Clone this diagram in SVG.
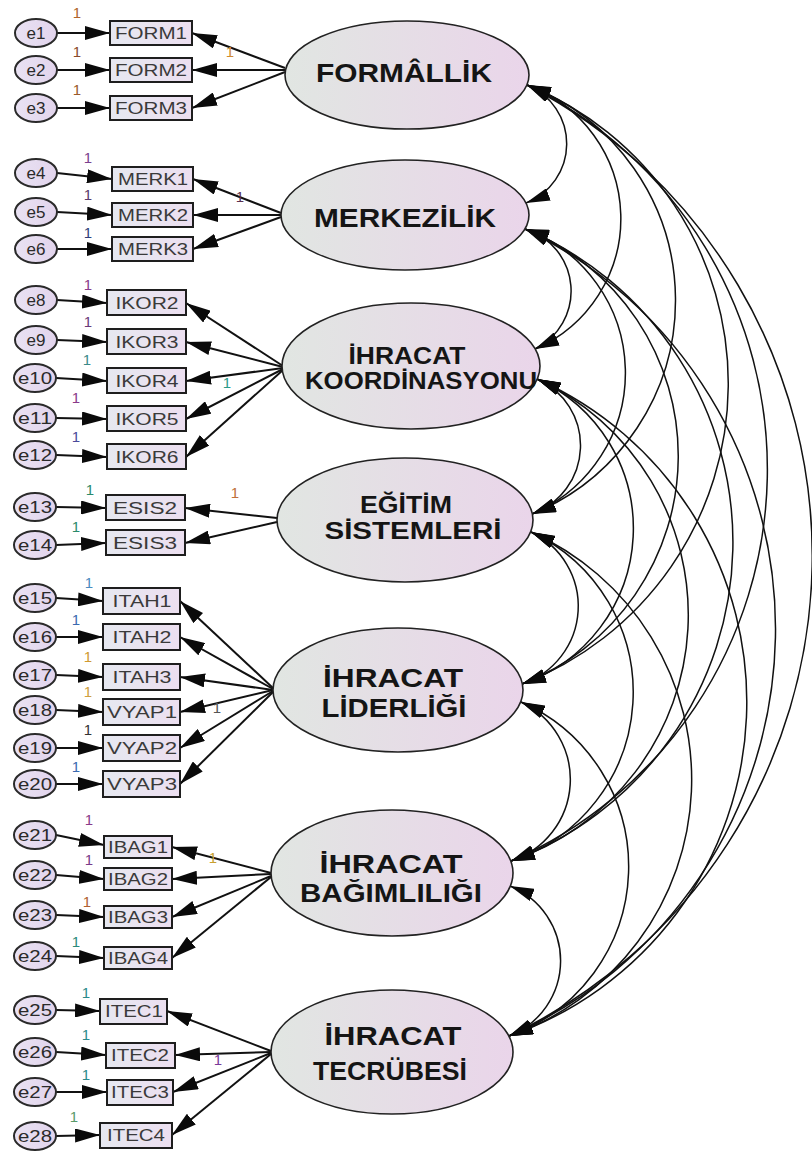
<svg xmlns="http://www.w3.org/2000/svg" width="812" height="1160" viewBox="0 0 812 1160">
  <style>
    .lat { stroke: #222; stroke-width: 1.6; fill: url(#latFill); }
    .err { stroke: #2a2a2a; stroke-width: 2; fill: url(#errFill); }
    .obs { stroke: #1e1e1e; stroke-width: 2; fill: url(#obsFill); }
    .latText { font-family: "Liberation Sans", Arial, sans-serif; font-weight: bold; fill: #151515; text-anchor: middle; }
    .obsText { font-family: "Liberation Sans", Arial, sans-serif; font-size: 16px; fill: #3a3a3a; text-anchor: middle; }
    .errText { font-family: "Liberation Sans", Arial, sans-serif; font-size: 17px; fill: #2a2a2a; text-anchor: middle; }
    .w { font-family: "Liberation Sans", Arial, sans-serif; font-size: 15px; text-anchor: middle; }
    .path { stroke: #111; stroke-width: 2; fill: none; marker-end: url(#head); }
    .cov { stroke: #111; stroke-width: 1.5; fill: none; marker-start: url(#covHead); marker-end: url(#covHead); }
  </style>
  <defs>
    <linearGradient id="latFill" x1="0" y1="0" x2="1" y2="0">
      <stop offset="0" stop-color="#e1e6e2"/>
      <stop offset="1" stop-color="#ead5ea"/>
    </linearGradient>
    <linearGradient id="errFill" x1="0" y1="0" x2="1" y2="0">
      <stop offset="0" stop-color="#e9e2f3"/>
      <stop offset="1" stop-color="#e2d4ec"/>
    </linearGradient>
    <linearGradient id="obsFill" x1="0" y1="0" x2="1" y2="0">
      <stop offset="0" stop-color="#e6e8f0"/>
      <stop offset="1" stop-color="#ecdff0"/>
    </linearGradient>
    <marker id="head" viewBox="0 0 25 14" refX="25" refY="7" markerWidth="25" markerHeight="14" markerUnits="userSpaceOnUse" orient="auto">
      <path d="M0,0 L25,7 L0,14 z" fill="#0a0a0a"/>
    </marker>
    <marker id="covHead" viewBox="0 0 24 13" refX="24" refY="6.5" markerWidth="24" markerHeight="13" markerUnits="userSpaceOnUse" orient="auto-start-reverse">
      <path d="M0,0 L24,6.5 L0,13 z" fill="#0a0a0a"/>
    </marker>
  </defs>
  <rect width="812" height="1160" fill="#ffffff"/>

  <!-- connectors: residual paths, loadings and factor covariances -->
  <g id="connectors">
    <!-- residual → indicator -->
    <line class="path" x1="57" y1="33" x2="110" y2="33"/>
    <line class="path" x1="57" y1="70" x2="110" y2="70"/>
    <line class="path" x1="57" y1="108" x2="110" y2="108"/>
    <line class="path" x1="57" y1="173" x2="112" y2="179"/>
    <line class="path" x1="57" y1="212" x2="112" y2="215"/>
    <line class="path" x1="57" y1="249" x2="112" y2="249"/>
    <line class="path" x1="57" y1="300" x2="107" y2="303"/>
    <line class="path" x1="57" y1="340" x2="107" y2="342"/>
    <line class="path" x1="56" y1="378" x2="107" y2="381"/>
    <line class="path" x1="56" y1="418" x2="107" y2="419"/>
    <line class="path" x1="56" y1="455" x2="107" y2="457"/>
    <line class="path" x1="56" y1="507" x2="106" y2="508"/>
    <line class="path" x1="56" y1="545" x2="106" y2="543"/>
    <line class="path" x1="56" y1="598" x2="103" y2="601"/>
    <line class="path" x1="56" y1="637" x2="103" y2="637"/>
    <line class="path" x1="56" y1="675" x2="103" y2="677"/>
    <line class="path" x1="56" y1="710" x2="103" y2="712"/>
    <line class="path" x1="56" y1="748" x2="103" y2="748"/>
    <line class="path" x1="56" y1="784" x2="103" y2="784"/>
    <line class="path" x1="56" y1="835" x2="104" y2="845"/>
    <line class="path" x1="56" y1="875" x2="104" y2="879"/>
    <line class="path" x1="56" y1="915" x2="104" y2="917"/>
    <line class="path" x1="56" y1="956" x2="104" y2="958"/>
    <line class="path" x1="56" y1="1010" x2="100" y2="1011"/>
    <line class="path" x1="56" y1="1052" x2="106" y2="1055"/>
    <line class="path" x1="56" y1="1092" x2="107" y2="1092"/>
    <line class="path" x1="56" y1="1136" x2="100" y2="1135"/>

    <!-- factor → indicator -->
    <line class="path" x1="285" y1="68" x2="192" y2="33"/>
    <line class="path" x1="285" y1="70" x2="192" y2="70"/>
    <line class="path" x1="285" y1="72" x2="192" y2="108"/>
    <line class="path" x1="281" y1="213" x2="193" y2="179"/>
    <line class="path" x1="281" y1="215" x2="193" y2="215"/>
    <line class="path" x1="281" y1="217" x2="193" y2="249"/>
    <line class="path" x1="283" y1="366" x2="186" y2="303"/>
    <line class="path" x1="283" y1="367" x2="186" y2="342"/>
    <line class="path" x1="283" y1="368" x2="186" y2="381"/>
    <line class="path" x1="283" y1="369" x2="186" y2="419"/>
    <line class="path" x1="283" y1="370" x2="186" y2="457"/>
    <line class="path" x1="277" y1="518" x2="185" y2="508"/>
    <line class="path" x1="277" y1="522" x2="185" y2="543"/>
    <line class="path" x1="273" y1="688" x2="180" y2="601"/>
    <line class="path" x1="273" y1="689" x2="180" y2="637"/>
    <line class="path" x1="273" y1="690" x2="180" y2="677"/>
    <line class="path" x1="273" y1="690" x2="180" y2="712"/>
    <line class="path" x1="273" y1="691" x2="180" y2="748"/>
    <line class="path" x1="273" y1="692" x2="180" y2="784"/>
    <line class="path" x1="271" y1="873" x2="172" y2="847"/>
    <line class="path" x1="271" y1="874" x2="172" y2="879"/>
    <line class="path" x1="271" y1="876" x2="172" y2="917"/>
    <line class="path" x1="271" y1="877" x2="172" y2="958"/>
    <line class="path" x1="271" y1="1051" x2="167" y2="1011"/>
    <line class="path" x1="271" y1="1052" x2="175" y2="1055"/>
    <line class="path" x1="271" y1="1053" x2="173" y2="1092"/>
    <line class="path" x1="271" y1="1054" x2="172" y2="1135"/>

    <!-- covariances between factors (circular arcs on the right-hand side) -->
    <path class="cov" d="M527,85 A63.4,63.4 0 0 1 526,203"/>
    <path class="cov" d="M527,85 A142,142 0 0 1 535,349"/>
    <path class="cov" d="M527,85 A230.6,230.6 0 0 1 532,514"/>
    <path class="cov" d="M527,85 A322,322 0 0 1 522,684"/>
    <path class="cov" d="M527,85 A427.4,427.4 0 0 1 511,861"/>
    <path class="cov" d="M527,85 A531.5,531.5 0 0 1 509,1036"/>
    <path class="cov" d="M525,229 A64.7,64.7 0 0 1 535,349"/>
    <path class="cov" d="M525,229 A153.3,153.3 0 0 1 532,514"/>
    <path class="cov" d="M525,229 A244.6,244.6 0 0 1 522,684"/>
    <path class="cov" d="M525,229 A339.9,339.9 0 0 1 511,861"/>
    <path class="cov" d="M525,229 A444.3,444.3 0 0 1 509,1036"/>
    <path class="cov" d="M537,379 A72.6,72.6 0 0 1 532,514"/>
    <path class="cov" d="M537,379 A164.2,164.2 0 0 1 522,684"/>
    <path class="cov" d="M537,379 A259.5,259.5 0 0 1 511,861"/>
    <path class="cov" d="M537,379 A353.5,353.5 0 0 1 509,1036"/>
    <path class="cov" d="M531,532 A81.9,81.9 0 0 1 522,684"/>
    <path class="cov" d="M531,532 A177.2,177.2 0 0 1 511,861"/>
    <path class="cov" d="M531,532 A271.2,271.2 0 0 1 509,1036"/>
    <path class="cov" d="M521,702 A85.6,85.6 0 0 1 511,861"/>
    <path class="cov" d="M521,702 A179.7,179.7 0 0 1 509,1036"/>
    <path class="cov" d="M510,886 A80.6,80.6 0 0 1 509,1036"/>

    <!-- fixed weights -->
    <g id="weights">
      <text class="w" x="77" y="18" fill="#b0642a">1</text>
      <text class="w" x="77" y="57" fill="#8a4a2a">1</text>
      <text class="w" x="77" y="95" fill="#9a5a2a">1</text>
      <text class="w" x="230" y="57" fill="#d08a30">1</text>
      <text class="w" x="88" y="163" fill="#7b3f8f">1</text>
      <text class="w" x="88" y="200" fill="#5a3a6a">1</text>
      <text class="w" x="88" y="238" fill="#2f3f7a">1</text>
      <text class="w" x="240" y="202" fill="#5a3050">1</text>
      <text class="w" x="88" y="290" fill="#8a3a8a">1</text>
      <text class="w" x="88" y="327" fill="#6a3a7a">1</text>
      <text class="w" x="87" y="365" fill="#3a8a8a">1</text>
      <text class="w" x="76" y="403" fill="#8a3a8a">1</text>
      <text class="w" x="76" y="442" fill="#4a4a9a">1</text>
      <text class="w" x="227" y="388" fill="#2a9a8a">1</text>
      <text class="w" x="90" y="495" fill="#2a8a6a">1</text>
      <text class="w" x="76" y="532" fill="#2a8a6a">1</text>
      <text class="w" x="235" y="498" fill="#c0703a">1</text>
      <text class="w" x="89" y="588" fill="#4a8ac0">1</text>
      <text class="w" x="76" y="625" fill="#3a6ab0">1</text>
      <text class="w" x="88" y="662" fill="#d09a30">1</text>
      <text class="w" x="88" y="697" fill="#d0a040">1</text>
      <text class="w" x="88" y="735" fill="#333333">1</text>
      <text class="w" x="76" y="772" fill="#3a6ab0">1</text>
      <text class="w" x="217" y="713" fill="#555555">1</text>
      <text class="w" x="89" y="825" fill="#8a3a8a">1</text>
      <text class="w" x="89" y="865" fill="#7a3a8a">1</text>
      <text class="w" x="87" y="907" fill="#b06030">1</text>
      <text class="w" x="76" y="947" fill="#2a8a7a">1</text>
      <text class="w" x="213" y="863" fill="#c8a030">1</text>
      <text class="w" x="86" y="998" fill="#2a8a8a">1</text>
      <text class="w" x="86" y="1040" fill="#2a8a8a">1</text>
      <text class="w" x="86" y="1080" fill="#2a8a8a">1</text>
      <text class="w" x="74" y="1122" fill="#5a9a6a">1</text>
      <text class="w" x="218" y="1065" fill="#7a3a9a">1</text>
    </g>
  </g>

  <!-- latent factors -->
  <g id="F_FORMALLIK">
    <ellipse class="lat" cx="407" cy="75" rx="122" ry="54"/>
    <text class="latText" x="404" y="82" font-size="26" textLength="176" lengthAdjust="spacingAndGlyphs">FORMÂLLİK</text>
  </g>
  <g id="F_MERKEZILIK">
    <ellipse class="lat" cx="405" cy="215" rx="124" ry="55"/>
    <text class="latText" x="405" y="227" font-size="26" textLength="182" lengthAdjust="spacingAndGlyphs">MERKEZİLİK</text>
  </g>
  <g id="F_KOORDINASYON">
    <ellipse class="lat" cx="411" cy="366" rx="129" ry="63"/>
    <text class="latText" x="407" y="364" font-size="23" textLength="117" lengthAdjust="spacingAndGlyphs">İHRACAT</text>
    <text class="latText" x="421" y="389" font-size="23" textLength="232" lengthAdjust="spacingAndGlyphs">KOORDİNASYONU</text>
  </g>
  <g id="F_EGITIM">
    <ellipse class="lat" cx="405" cy="520" rx="128" ry="62"/>
    <text class="latText" x="406" y="513" font-size="23" textLength="92" lengthAdjust="spacingAndGlyphs">EĞİTİM</text>
    <text class="latText" x="413" y="539" font-size="23" textLength="177" lengthAdjust="spacingAndGlyphs">SİSTEMLERİ</text>
  </g>
  <g id="F_LIDERLIK">
    <ellipse class="lat" cx="398" cy="690" rx="125" ry="62"/>
    <text class="latText" x="393" y="687" font-size="26" textLength="140" lengthAdjust="spacingAndGlyphs">İHRACAT</text>
    <text class="latText" x="394" y="717" font-size="26" textLength="145" lengthAdjust="spacingAndGlyphs">LİDERLİĞİ</text>
  </g>
  <g id="F_BAGIMLILIK">
    <ellipse class="lat" cx="392" cy="873" rx="121" ry="63"/>
    <text class="latText" x="391" y="873" font-size="26" textLength="143" lengthAdjust="spacingAndGlyphs">İHRACAT</text>
    <text class="latText" x="391" y="902" font-size="26" textLength="182" lengthAdjust="spacingAndGlyphs">BAĞIMLILIĞI</text>
  </g>
  <g id="F_TECRUBE">
    <ellipse class="lat" cx="392" cy="1052" rx="121" ry="62"/>
    <text class="latText" x="393" y="1045" font-size="26" textLength="137" lengthAdjust="spacingAndGlyphs">İHRACAT</text>
    <text class="latText" x="390" y="1080" font-size="26" textLength="154" lengthAdjust="spacingAndGlyphs">TECRÜBESİ</text>
  </g>

  <!-- observed indicators -->
  <g id="FORM1"><rect class="obs" x="110" y="21" width="82" height="24"/><text class="obsText" x="151" y="39" textLength="72" lengthAdjust="spacingAndGlyphs">FORM1</text></g>
  <g id="FORM2"><rect class="obs" x="110" y="58" width="82" height="24"/><text class="obsText" x="151" y="76" textLength="72" lengthAdjust="spacingAndGlyphs">FORM2</text></g>
  <g id="FORM3"><rect class="obs" x="110" y="96" width="82" height="24"/><text class="obsText" x="151" y="114" textLength="72" lengthAdjust="spacingAndGlyphs">FORM3</text></g>
  <g id="MERK1"><rect class="obs" x="112" y="167" width="81" height="24"/><text class="obsText" x="153" y="185" textLength="70" lengthAdjust="spacingAndGlyphs">MERK1</text></g>
  <g id="MERK2"><rect class="obs" x="112" y="203" width="81" height="24"/><text class="obsText" x="153" y="221" textLength="70" lengthAdjust="spacingAndGlyphs">MERK2</text></g>
  <g id="MERK3"><rect class="obs" x="112" y="237" width="81" height="24"/><text class="obsText" x="153" y="255" textLength="70" lengthAdjust="spacingAndGlyphs">MERK3</text></g>
  <g id="IKOR2"><rect class="obs" x="107" y="290" width="79" height="25"/><text class="obsText" x="147" y="309" textLength="63" lengthAdjust="spacingAndGlyphs">IKOR2</text></g>
  <g id="IKOR3"><rect class="obs" x="107" y="329" width="79" height="25"/><text class="obsText" x="147" y="348" textLength="63" lengthAdjust="spacingAndGlyphs">IKOR3</text></g>
  <g id="IKOR4"><rect class="obs" x="107" y="368" width="79" height="25"/><text class="obsText" x="147" y="387" textLength="63" lengthAdjust="spacingAndGlyphs">IKOR4</text></g>
  <g id="IKOR5"><rect class="obs" x="107" y="406" width="79" height="25"/><text class="obsText" x="147" y="425" textLength="63" lengthAdjust="spacingAndGlyphs">IKOR5</text></g>
  <g id="IKOR6"><rect class="obs" x="107" y="444" width="79" height="25"/><text class="obsText" x="147" y="463" textLength="63" lengthAdjust="spacingAndGlyphs">IKOR6</text></g>
  <g id="ESIS2"><rect class="obs" x="106" y="495" width="79" height="25"/><text class="obsText" x="145" y="514" textLength="64" lengthAdjust="spacingAndGlyphs">ESIS2</text></g>
  <g id="ESIS3"><rect class="obs" x="106" y="530" width="79" height="25"/><text class="obsText" x="145" y="549" textLength="64" lengthAdjust="spacingAndGlyphs">ESIS3</text></g>
  <g id="ITAH1"><rect class="obs" x="103" y="588" width="77" height="26"/><text class="obsText" x="142" y="607" textLength="59" lengthAdjust="spacingAndGlyphs">ITAH1</text></g>
  <g id="ITAH2"><rect class="obs" x="103" y="624" width="77" height="26"/><text class="obsText" x="142" y="643" textLength="59" lengthAdjust="spacingAndGlyphs">ITAH2</text></g>
  <g id="ITAH3"><rect class="obs" x="103" y="664" width="77" height="26"/><text class="obsText" x="142" y="683" textLength="59" lengthAdjust="spacingAndGlyphs">ITAH3</text></g>
  <g id="VYAP1"><rect class="obs" x="103" y="699" width="77" height="26"/><text class="obsText" x="142" y="718" textLength="70" lengthAdjust="spacingAndGlyphs">VYAP1</text></g>
  <g id="VYAP2"><rect class="obs" x="103" y="735" width="77" height="26"/><text class="obsText" x="142" y="754" textLength="70" lengthAdjust="spacingAndGlyphs">VYAP2</text></g>
  <g id="VYAP3"><rect class="obs" x="103" y="771" width="77" height="26"/><text class="obsText" x="142" y="790" textLength="70" lengthAdjust="spacingAndGlyphs">VYAP3</text></g>
  <g id="IBAG1"><rect class="obs" x="104" y="836" width="68" height="22"/><text class="obsText" x="138" y="853" textLength="60" lengthAdjust="spacingAndGlyphs">IBAG1</text></g>
  <g id="IBAG2"><rect class="obs" x="104" y="868" width="68" height="22"/><text class="obsText" x="138" y="885" textLength="60" lengthAdjust="spacingAndGlyphs">IBAG2</text></g>
  <g id="IBAG3"><rect class="obs" x="104" y="906" width="68" height="22"/><text class="obsText" x="138" y="923" textLength="60" lengthAdjust="spacingAndGlyphs">IBAG3</text></g>
  <g id="IBAG4"><rect class="obs" x="104" y="947" width="68" height="22"/><text class="obsText" x="138" y="964" textLength="60" lengthAdjust="spacingAndGlyphs">IBAG4</text></g>
  <g id="ITEC1"><rect class="obs" x="100" y="999" width="67" height="25"/><text class="obsText" x="134" y="1017" textLength="58" lengthAdjust="spacingAndGlyphs">ITEC1</text></g>
  <g id="ITEC2"><rect class="obs" x="106" y="1043" width="69" height="25"/><text class="obsText" x="140" y="1061" textLength="58" lengthAdjust="spacingAndGlyphs">ITEC2</text></g>
  <g id="ITEC3"><rect class="obs" x="107" y="1080" width="66" height="25"/><text class="obsText" x="140" y="1098" textLength="58" lengthAdjust="spacingAndGlyphs">ITEC3</text></g>
  <g id="ITEC4"><rect class="obs" x="100" y="1123" width="72" height="25"/><text class="obsText" x="136" y="1141" textLength="58" lengthAdjust="spacingAndGlyphs">ITEC4</text></g>

  <!-- residual terms -->
  <g id="e1"><ellipse class="err" cx="36" cy="33" rx="21" ry="14"/><text class="errText" x="36" y="39">e1</text></g>
  <g id="e2"><ellipse class="err" cx="36" cy="70" rx="21" ry="14"/><text class="errText" x="36" y="76">e2</text></g>
  <g id="e3"><ellipse class="err" cx="36" cy="108" rx="21" ry="14"/><text class="errText" x="36" y="114">e3</text></g>
  <g id="e4"><ellipse class="err" cx="36" cy="173" rx="21" ry="14"/><text class="errText" x="36" y="179">e4</text></g>
  <g id="e5"><ellipse class="err" cx="36" cy="212" rx="21" ry="14"/><text class="errText" x="36" y="218">e5</text></g>
  <g id="e6"><ellipse class="err" cx="36" cy="249" rx="21" ry="14"/><text class="errText" x="36" y="255">e6</text></g>
  <g id="e8"><ellipse class="err" cx="36" cy="300" rx="21" ry="14"/><text class="errText" x="36" y="306">e8</text></g>
  <g id="e9"><ellipse class="err" cx="36" cy="340" rx="21" ry="14"/><text class="errText" x="36" y="346">e9</text></g>
  <g id="e10"><ellipse class="err" cx="35" cy="378" rx="21" ry="14"/><text class="errText" x="35" y="384" textLength="34" lengthAdjust="spacingAndGlyphs">e10</text></g>
  <g id="e11"><ellipse class="err" cx="35" cy="418" rx="21" ry="14"/><text class="errText" x="35" y="424" textLength="34" lengthAdjust="spacingAndGlyphs">e11</text></g>
  <g id="e12"><ellipse class="err" cx="35" cy="455" rx="21" ry="14"/><text class="errText" x="35" y="461" textLength="34" lengthAdjust="spacingAndGlyphs">e12</text></g>
  <g id="e13"><ellipse class="err" cx="35" cy="507" rx="21" ry="14"/><text class="errText" x="35" y="513" textLength="34" lengthAdjust="spacingAndGlyphs">e13</text></g>
  <g id="e14"><ellipse class="err" cx="35" cy="545" rx="21" ry="14"/><text class="errText" x="35" y="551" textLength="34" lengthAdjust="spacingAndGlyphs">e14</text></g>
  <g id="e15"><ellipse class="err" cx="35" cy="598" rx="21" ry="14"/><text class="errText" x="35" y="604" textLength="34" lengthAdjust="spacingAndGlyphs">e15</text></g>
  <g id="e16"><ellipse class="err" cx="35" cy="637" rx="21" ry="14"/><text class="errText" x="35" y="643" textLength="34" lengthAdjust="spacingAndGlyphs">e16</text></g>
  <g id="e17"><ellipse class="err" cx="35" cy="675" rx="21" ry="14"/><text class="errText" x="35" y="681" textLength="34" lengthAdjust="spacingAndGlyphs">e17</text></g>
  <g id="e18"><ellipse class="err" cx="35" cy="710" rx="21" ry="14"/><text class="errText" x="35" y="716" textLength="34" lengthAdjust="spacingAndGlyphs">e18</text></g>
  <g id="e19"><ellipse class="err" cx="35" cy="748" rx="21" ry="14"/><text class="errText" x="35" y="754" textLength="34" lengthAdjust="spacingAndGlyphs">e19</text></g>
  <g id="e20"><ellipse class="err" cx="35" cy="784" rx="21" ry="14"/><text class="errText" x="35" y="790" textLength="34" lengthAdjust="spacingAndGlyphs">e20</text></g>
  <g id="e21"><ellipse class="err" cx="35" cy="835" rx="21" ry="14"/><text class="errText" x="35" y="841" textLength="34" lengthAdjust="spacingAndGlyphs">e21</text></g>
  <g id="e22"><ellipse class="err" cx="35" cy="875" rx="21" ry="14"/><text class="errText" x="35" y="881" textLength="34" lengthAdjust="spacingAndGlyphs">e22</text></g>
  <g id="e23"><ellipse class="err" cx="35" cy="915" rx="21" ry="14"/><text class="errText" x="35" y="921" textLength="34" lengthAdjust="spacingAndGlyphs">e23</text></g>
  <g id="e24"><ellipse class="err" cx="35" cy="956" rx="21" ry="14"/><text class="errText" x="35" y="962" textLength="34" lengthAdjust="spacingAndGlyphs">e24</text></g>
  <g id="e25"><ellipse class="err" cx="35" cy="1010" rx="21" ry="14"/><text class="errText" x="35" y="1016" textLength="34" lengthAdjust="spacingAndGlyphs">e25</text></g>
  <g id="e26"><ellipse class="err" cx="35" cy="1052" rx="21" ry="14"/><text class="errText" x="35" y="1058" textLength="34" lengthAdjust="spacingAndGlyphs">e26</text></g>
  <g id="e27"><ellipse class="err" cx="35" cy="1092" rx="21" ry="14"/><text class="errText" x="35" y="1098" textLength="34" lengthAdjust="spacingAndGlyphs">e27</text></g>
  <g id="e28"><ellipse class="err" cx="35" cy="1136" rx="21" ry="14"/><text class="errText" x="35" y="1142" textLength="34" lengthAdjust="spacingAndGlyphs">e28</text></g>
</svg>
